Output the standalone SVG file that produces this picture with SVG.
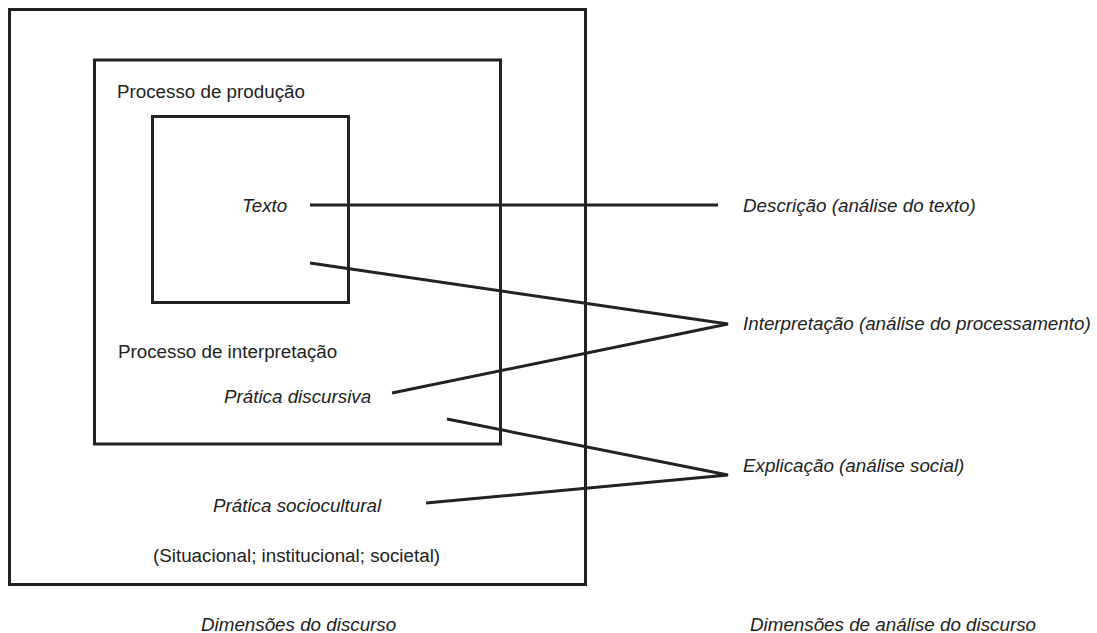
<svg xmlns="http://www.w3.org/2000/svg" width="1097" height="633" viewBox="0 0 1097 633">
<style>
.box{fill:none;stroke:#222;stroke-width:3}
.ln{fill:none;stroke:#222;stroke-width:3}
text{font-family:"Liberation Sans",Arial,sans-serif;font-size:18.8px;fill:#222}
.it{font-style:italic}
</style>
<rect width="1097" height="633" fill="#fff"/>
<g id="pratica-sociocultural">
<rect class="box" x="9.5" y="9.5" width="576" height="575"/>
<text class="it" x="213" y="512">Prática sociocultural</text>
<text x="153" y="562">(Situacional; institucional; societal)</text>
</g>
<g id="pratica-discursiva">
<rect class="box" x="94.5" y="60" width="406" height="384"/>
<text x="117" y="98">Processo de produção</text>
<text x="118" y="358">Processo de interpretação</text>
<text class="it" x="224" y="403">Prática discursiva</text>
</g>
<g id="texto">
<rect class="box" x="152.5" y="116.5" width="196" height="186"/>
<text class="it" x="242" y="212">Texto</text>
</g>
<g id="descricao"><text class="it" x="743" y="212">Descrição (análise do texto)</text></g>
<g id="interpretacao"><text class="it" x="743" y="330">Interpretação (análise do processamento)</text></g>
<g id="explicacao"><text class="it" x="743" y="472">Explicação (análise social)</text></g>
<g id="dim-discurso"><text class="it" x="201" y="631">Dimensões do discurso</text></g>
<g id="dim-analise"><text class="it" x="750" y="631">Dimensões de análise do discurso</text></g>
<g id="connectors">
<line class="ln" x1="310" y1="205" x2="718" y2="205"/>
<polyline class="ln" points="310,263 728,324 392,393"/>
<polyline class="ln" points="447,419 728,475 426,503"/>
</g>
</svg>
